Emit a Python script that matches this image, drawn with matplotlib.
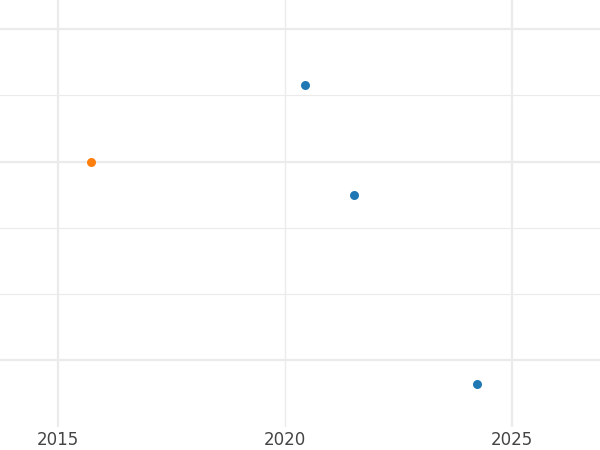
import numpy as np
import matplotlib.pyplot as plt

# data
years_blue = [2020.44, 2021.52, 2024.23]
values_blue = [4.15, 2.49, -0.36]
years_orange = [2015.73]
values_orange = [3.0]

x_ticks = [2015, 2020, 2025]
x_tick_labels = ["2015", "2020", "2025"]
y_grid = [0, 1, 2, 3, 4, 5]
y_major = [0, 3, 5]

fig = plt.figure(figsize=(6, 4.5), dpi=100)
ax = fig.add_axes([0, 0.051, 1, 0.949])

ax.scatter(years_blue, values_blue, s=42, color="#1f77b4", zorder=3, linewidths=0)
ax.scatter(years_orange, values_orange, s=42, color="#ff7f0e", zorder=3, linewidths=0)

ax.set_xlim(2013.72, 2026.94)
ax.set_ylim(-1.01, 5.44)

ax.set_xticks(x_ticks)
ax.set_xticklabels(x_tick_labels)
ax.set_yticks(y_grid)
ax.set_yticklabels([])
ax.tick_params(length=0, labelsize=12, labelcolor="#444444", pad=3)

ax.grid(True, color="#ebebeb", zorder=0)
ax.set_axisbelow(True)
for line, t in zip(ax.get_xgridlines(), x_ticks):
    line.set_linewidth(1.0 if t == 2020 else 1.6)
for line, t in zip(ax.get_ygridlines(), y_grid):
    line.set_linewidth(1.6 if t in y_major else 0.8)

for s in ax.spines.values():
    s.set_visible(False)

fig.savefig("out.png", dpi=100)
